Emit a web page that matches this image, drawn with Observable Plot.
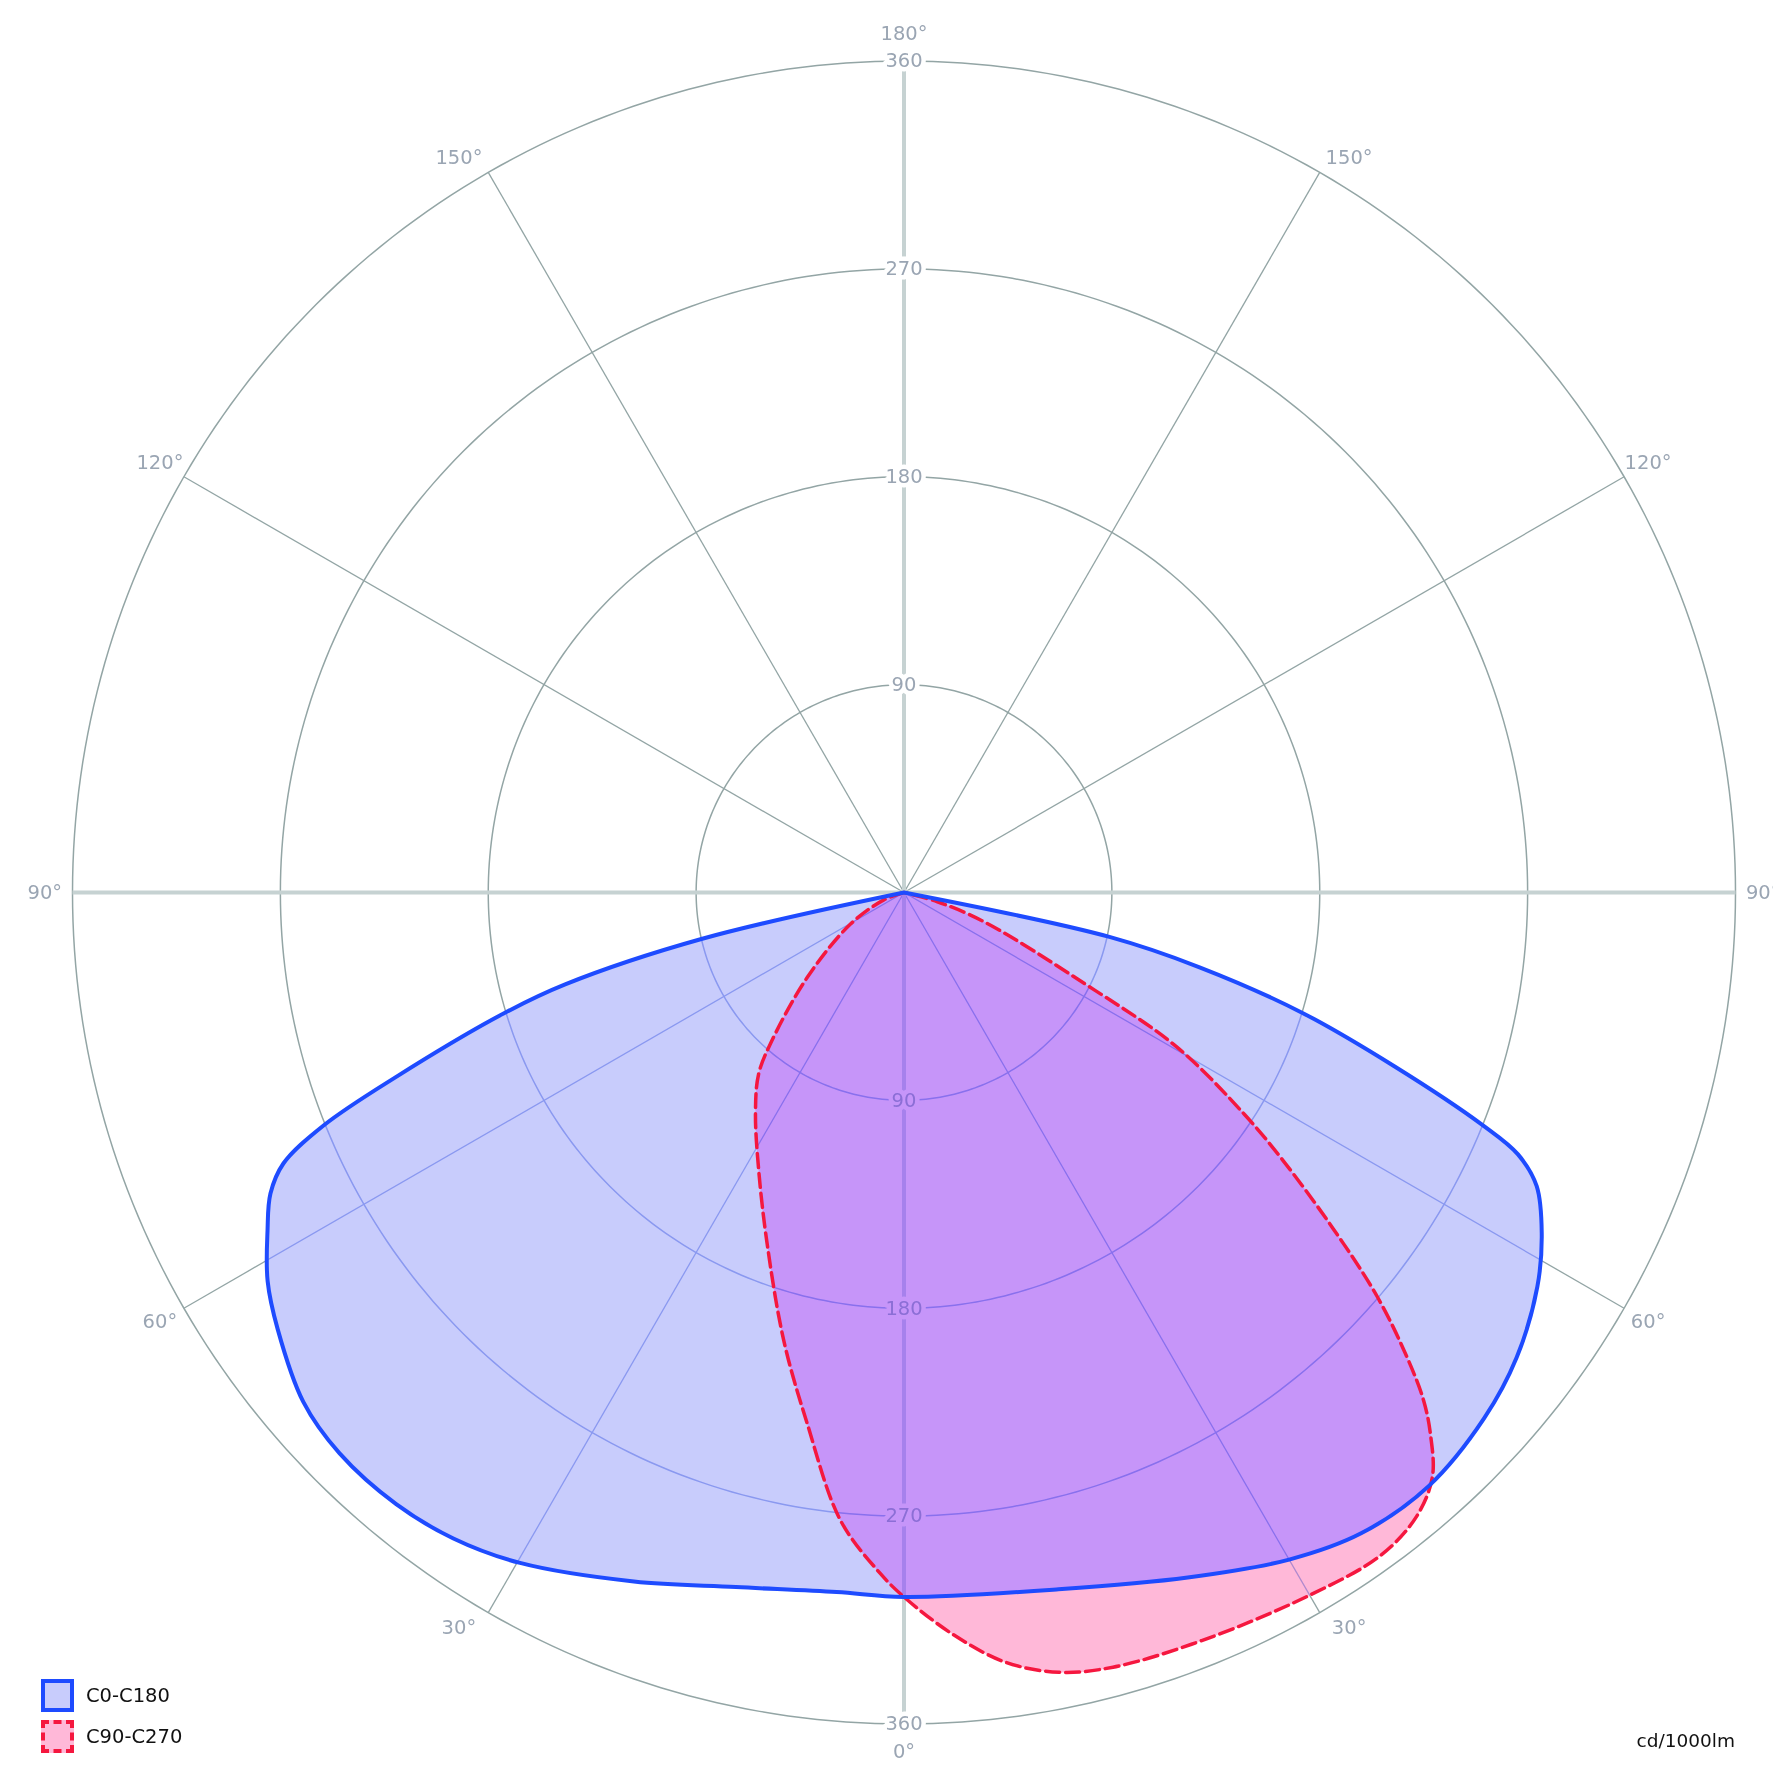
<!DOCTYPE html>
<html><head><meta charset="utf-8">
<script src="https://cdn.jsdelivr.net/npm/d3@7"></script>
<script src="https://cdn.jsdelivr.net/npm/@observablehq/plot@0.6"></script>
<style>
body{margin:0;background:#fff;}
#wrap{position:relative;width:1773px;height:1772px;font-family:"DejaVu Sans",sans-serif;overflow:hidden;}
#wrap svg{position:absolute;left:0;top:0;}
.leg{position:absolute;left:41px;display:flex;align-items:center;font-size:19.5px;color:#111;height:33px;}
.sw{width:25px;height:25px;margin-right:12px;}
.unit{position:absolute;right:38px;top:1730px;font-size:18.5px;line-height:22px;color:#111;}
</style></head><body><div id="wrap"></div>
<script>
// ---- data (gamma angle in degrees, intensity in cd/1000lm) ----
const gammaC0 = [0,12.5,22.5,30,35.5,41.5,47.8,52.8,58.1,61.9,65.1,66.9,68.1,70.5,73.2,75.8,77.8,90];
const intensityC0 = [305,309,321,333.5,340.8,343,339,333,323,313,302,289,270,225,180,132,91,0];
const gammaC180 = [0,5.5,13.6,21.4,29.8,34.9,39.7,45.2,49.7,55.1,58.6,62,64.58,66.41,68.13,70.04,73.19,74.83,77.07,90];
const intensityC180 = [305,304.3,309.4,320.4,334.5,341,344.2,344.5,341,330.6,322.8,312.1,303.7,293.2,270.8,234.1,181.1,152,90,0];
const gammaC90 = [0,3.7,7.5,11.25,15.1,21.7,30,35.7,39.35,42.1,44.2,45.65,47.25,49.5,51.9,54.7,56.9,60.5,63.2,69.9,74.5,90];
const intensityC90 = [305,321.6,336.1,344.2,347.4,348.6,351.3,353.5,349.7,341.2,326.9,314.6,296.7,269.5,236.4,201.4,176,135.5,88,37,15,0];
const gammaC270 = [0,1.98,5.78,10.33,15,21.27,27.51,33.93,38.66,41.56,48.71,59.43,69.88,90];
const intensityC270 = [305,295.1,273.2,233.7,201,163.3,136.1,115.2,100.8,86.8,55.8,26.9,9.3,0];

const ringValues = [90,180,270,360];
const ringLabels = ["90","180","270","360"];
const spokeAngles = [30,60,120,150,210,240,300,330];
const angleTicks = [0,30,60,90,120,150,180];
const seriesNames = ["C0-C180","C90-C270"];
const unitLabel = "cd/1000lm";

// ---- build ----
const rad = Math.PI/180;
function outline(gL, iL, gR, iR){
  const pts = [];
  for (let k = gL.length-1; k >= 0; k--) pts.push({x: -iL[k]*Math.sin(gL[k]*rad), y: -iL[k]*Math.cos(gL[k]*rad)});
  for (let k = 1; k < gR.length; k++) pts.push({x: iR[k]*Math.sin(gR[k]*rad), y: -iR[k]*Math.cos(gR[k]*rad)});
  return pts;
}
const blue = outline(gammaC180, intensityC180, gammaC0, intensityC0);
const red = outline(gammaC270, intensityC270, gammaC90, intensityC90);

const ringPts = ringValues.flatMap(v => d3.range(0, 361, 1).map(a => ({ring: v, x: v*Math.sin(a*rad), y: v*Math.cos(a*rad)})));
const spokes = spokeAngles.map(a => ({x1: 0, y1: 0, x2: 360*Math.sin(a*rad), y2: 360*Math.cos(a*rad)}));
const axes = [{x1: 0, y1: -360, x2: 0, y2: 360}, {x1: -360, y1: 0, x2: 360, y2: 0}];
const rLab = ringValues.flatMap((v,i) => [{y: v, t: ringLabels[i]}, {y: -v, t: ringLabels[i]}]);
// labels sit just outside the outer ring; the 30°/150° ones are nudged toward the horizontal
const labR = 372;
const nudge = a => (a === 30 ? 1.2 : a === 150 ? -1.2 : 0);
const aLab = angleTicks.flatMap(a => (a === 0 || a === 180 ? [1] : [-1, 1]).map(s => {
  const p = (a + nudge(a))*rad;
  return {x: s*labR*Math.sin(p), y: -labR*Math.cos(p), t: a + "°"};
}));

const gridC = "#93a5a5", labC = "#9aa5b3";
const plot = Plot.plot({
  width: 1773, height: 1772,
  marginLeft: 72, marginRight: 38, marginTop: 60.5, marginBottom: 48.5,
  x: {domain: [-360, 360], axis: null},
  y: {domain: [-360, 360], axis: null},
  style: {fontFamily: "DejaVu Sans", background: "white", overflow: "visible"},
  marks: [
    Plot.line(ringPts, {x: "x", y: "y", z: "ring", stroke: gridC, strokeWidth: 1.5, ariaDescription: "grid-rings"}),
    Plot.link(spokes, {x1: "x1", y1: "y1", x2: "x2", y2: "y2", stroke: gridC, strokeWidth: 1.3, ariaDescription: "grid-spokes"}),
    Plot.link(axes, {x1: "x1", y1: "y1", x2: "x2", y2: "y2", stroke: "#c6d2d2", strokeWidth: 4, ariaDescription: "grid-axes"}),
    Plot.text(rLab, {x: () => 0, y: "y", text: "t", fill: labC, stroke: "white", strokeWidth: 9, paintOrder: "stroke", fontSize: 19.5, ariaDescription: "ring-labels"}),
    Plot.text(aLab, {x: "x", y: "y", text: "t", fill: labC, fontSize: 19.5}),
    Plot.line(blue, {x: "x", y: "y", curve: "catmull-rom", stroke: "none", fill: "#c8ccfc", ariaDescription: "fill-blue"}),
    Plot.line(red, {x: "x", y: "y", curve: "catmull-rom", stroke: "none", fill: "#ffb8d8", ariaDescription: "fill-red"}),
    Plot.line(red, {x: "x", y: "y", curve: "catmull-rom", stroke: "#f5173f", strokeWidth: 3.5, strokeDasharray: "14,6"}),
    Plot.line(blue, {x: "x", y: "y", curve: "catmull-rom", stroke: "#1e4bff", strokeWidth: 4})
  ]
});

// overlap colour + grid seen through the filled areas
const ns = "http://www.w3.org/2000/svg";
const q = s => plot.querySelector(`g[aria-description="${s}"]`);
const gB = q("fill-blue"), gR = q("fill-red");
if (gB && gR) {
  const pB = gB.querySelector("path"), pR = gR.querySelector("path");
  const dB = pB.getAttribute("d"), dR = pR.getAttribute("d");
  const tB = gB.getAttribute("transform"), tR = gR.getAttribute("transform");
  const tr = t => t ? ` transform="${t}"` : "";
  const defs = document.createElementNS(ns, "defs");
  defs.innerHTML =
    `<clipPath id="clipB"><path d="${dB}"/></clipPath>` +
    `<clipPath id="clipU"><path d="${dB}"${tr(tB)}/><path d="${dR}"${tr(tR)}/></clipPath>` +
    `<mask id="gapM" maskUnits="userSpaceOnUse" x="-50" y="-50" width="1900" height="1900"><rect x="-50" y="-50" width="1900" height="1900" fill="white"/></mask>`;
  plot.insertBefore(defs, plot.firstChild);
  // purple overlap
  const gO = gR.cloneNode(true);
  gO.removeAttribute("aria-description");
  gO.setAttribute("fill", "#c695f9");
  const pO = gO.querySelector("path");
  pO.setAttribute("fill", "#c695f9");
  pO.setAttribute("clip-path", "url(#clipB)");
  gR.after(gO);
  // label gaps for the top grid copy
  const gL = q("ring-labels");
  const mk = gL.cloneNode(true);
  mk.removeAttribute("aria-description");
  mk.setAttribute("fill", "black"); mk.setAttribute("stroke", "black");
  defs.querySelector("#gapM").appendChild(mk);
  // top grid copy, multiplied over the fills
  const top = document.createElementNS(ns, "g");
  top.setAttribute("clip-path", "url(#clipU)");
  top.setAttribute("style", "mix-blend-mode:multiply");
  const lines = document.createElementNS(ns, "g");
  lines.setAttribute("mask", "url(#gapM)");
  [["grid-rings", "#b0bff3"], ["grid-spokes", "#b0bff3"], ["grid-axes", "#d6ddf2"]].forEach(([n, c]) => {
    const g = q(n).cloneNode(true);
    g.removeAttribute("aria-description");
    g.setAttribute("stroke", c);
    lines.appendChild(g);
  });
  top.appendChild(lines);
  const lt = gL.cloneNode(true);
  lt.removeAttribute("aria-description");
  lt.setAttribute("stroke", "none");
  lt.setAttribute("fill", "#b4bcdc");
  top.appendChild(lt);
  gO.after(top);
}

const wrap = document.getElementById("wrap");
wrap.appendChild(plot);
const leg = [
  {top: 1679, border: "4px solid #1e4bff", bg: "#c8ccfc"},
  {top: 1720, border: "4px dashed #f5173f", bg: "#ffb8d8"}
];
leg.forEach((l, i) => {
  const d = document.createElement("div");
  d.className = "leg"; d.style.top = l.top + "px";
  const s = document.createElement("div");
  s.className = "sw"; s.style.border = l.border; s.style.background = l.bg;
  d.appendChild(s); d.appendChild(document.createTextNode(seriesNames[i]));
  wrap.appendChild(d);
});
const u = document.createElement("div");
u.className = "unit"; u.textContent = unitLabel;
wrap.appendChild(u);
</script></body></html>
